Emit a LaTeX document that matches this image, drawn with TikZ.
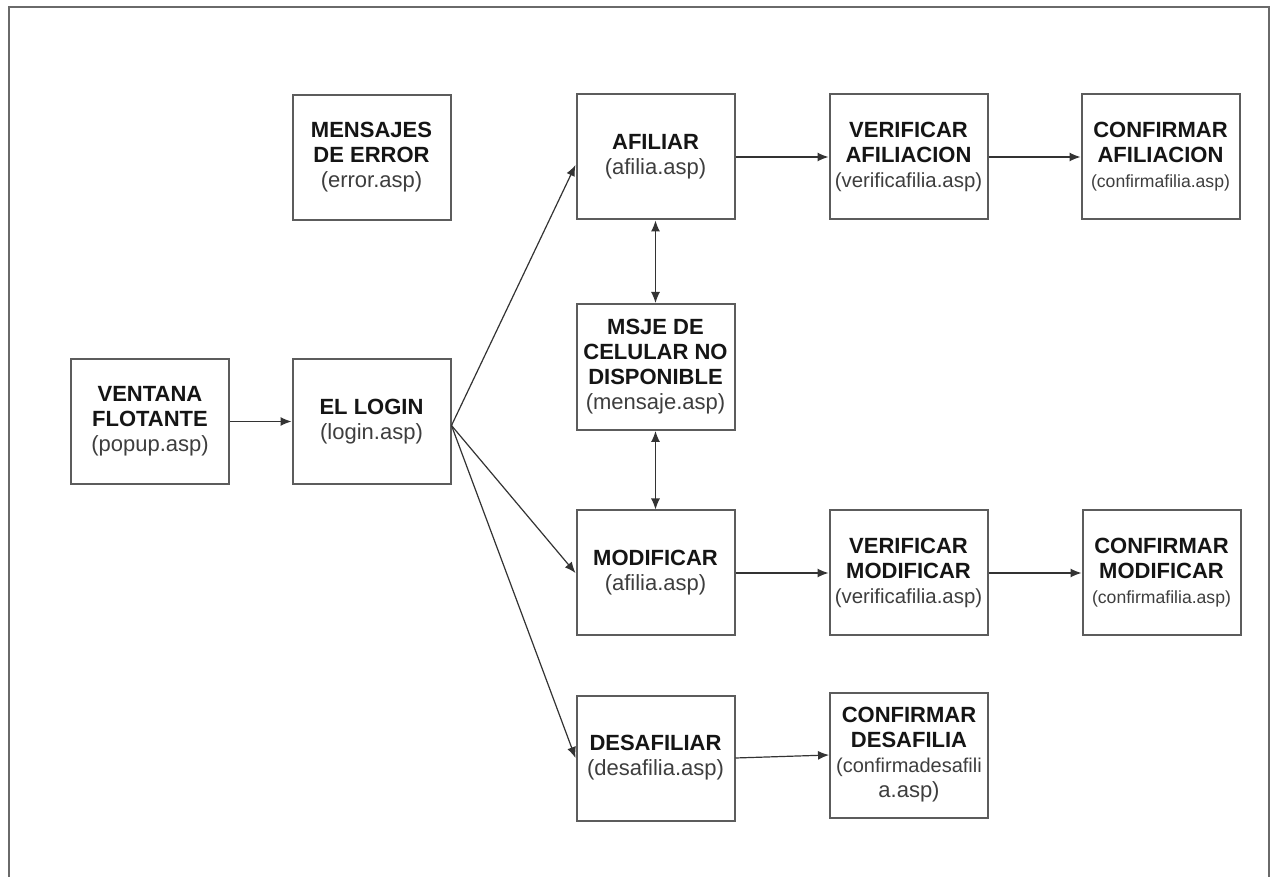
\documentclass[tikz,border=0pt]{standalone}
\usepackage{fontspec}
\setmainfont{Liberation Sans}
\usetikzlibrary{arrows.meta}
\definecolor{frameline}{HTML}{6A6A6A}
\definecolor{boxline}{HTML}{5C5C5C}
\definecolor{fileink}{HTML}{3E3E3E}
\definecolor{titleink}{HTML}{151515}
\newcommand{\ttl}[1]{{\color{titleink}\bfseries #1}}
\newcommand{\fil}[1]{{\color{fileink}#1}}
\begin{document}
\begin{tikzpicture}[x=0.5pt,y=-0.5pt,
  page/.style={draw=frameline,line width=1pt},
  pagebox/.style={draw=boxline,line width=1pt,minimum width=79pt,minimum height=62.5pt,
    inner sep=0pt,align=center,font=\fontsize{11}{12.5}\selectfont},
  link/.style={draw=black!80,line width=0.6pt,-{Latex[length=5.5pt,width=4.5pt]}},
  duallink/.style={draw=black!80,line width=0.6pt,{Latex[length=5.5pt,width=4.5pt]}-{Latex[length=5.5pt,width=4.5pt]}}]
\useasboundingbox (0,0) rectangle (1271,877);
\fill[white] (0,0) rectangle (1271,877);
% outer frame (its lower edge lies past the page)
\draw[page] (9,877) -- (9,7) -- (1269,7) -- (1269,877);

% pages of the site
\node[pagebox] (error) at (371.5,157.5) {\ttl{MENSAJES}\\\ttl{DE ERROR}\\\fil{(error.asp)}};
\node[pagebox] (afiliar) at (655.5,157) {\ttl{AFILIAR}\\\fil{(afilia.asp)}};
\node[pagebox] (verafil) at (908.5,157) {\ttl{VERIFICAR}\\\ttl{AFILIACION}\\\fil{\fontsize{10.2}{12.5}\selectfont(verificafilia.asp)}};
\node[pagebox] (confafil) at (1160.5,157) {\ttl{CONFIRMAR}\\\ttl{AFILIACION}\\\fil{\fontsize{8.8}{12.5}\selectfont(confirmafilia.asp)}};
\node[pagebox] (popup) at (150,421.5) {\ttl{VENTANA}\\\ttl{FLOTANTE}\\\fil{(popup.asp)}};
\node[pagebox] (login) at (371.5,421.5) {\ttl{EL LOGIN}\\\fil{(login.asp)}};
\node[pagebox,minimum height=63pt] (msje) at (655.5,367) {\ttl{MSJE DE}\\\ttl{CELULAR NO}\\\ttl{DISPONIBLE}\\\fil{(mensaje.asp)}};
\node[pagebox] (modif) at (655.5,573) {\ttl{MODIFICAR}\\\fil{(afilia.asp)}};
\node[pagebox] (vermod) at (908.5,573) {\ttl{VERIFICAR}\\\ttl{MODIFICAR}\\\fil{\fontsize{10.2}{12.5}\selectfont(verificafilia.asp)}};
\node[pagebox] (confmod) at (1161.5,573) {\ttl{CONFIRMAR}\\\ttl{MODIFICAR}\\\fil{\fontsize{8.8}{12.5}\selectfont(confirmafilia.asp)}};
\node[pagebox] (desafil) at (655.5,758) {\ttl{DESAFILIAR}\\\fil{(desafilia.asp)}};
\node[pagebox] (confdes) at (909,755) {\ttl{CONFIRMAR}\\\ttl{DESAFILIA}\\\fil{\fontsize{10}{12.5}\selectfont(confirmadesafili}\\\fil{a.asp)}};

% navigation
\draw[link] (popup.east) -- (login.west);
\draw[link] ([yshift=-2pt]login.east) -- ([yshift=-4pt]afiliar.west);
\draw[link] ([yshift=-2pt]login.east) -- (modif.west);
\draw[link] ([yshift=-2pt]login.east) -- (desafil.west);
\draw[link] (afiliar.east) -- (verafil.west);
\draw[link] (verafil.east) -- (confafil.west);
\draw[duallink] (afiliar.south) -- (msje.north);
\draw[duallink] (msje.south) -- (modif.north);
\draw[link] (modif.east) -- (vermod.west);
\draw[link] (vermod.east) -- (confmod.west);
\draw[link] (desafil.east) -- (confdes.west);
\end{tikzpicture}
\end{document}
